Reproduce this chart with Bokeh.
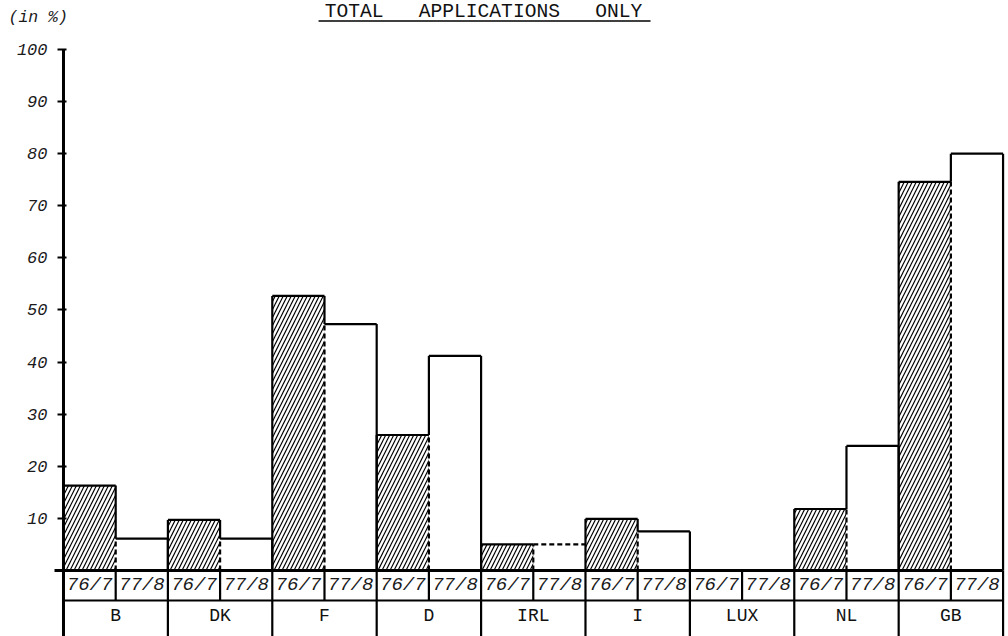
from bokeh.plotting import figure
from bokeh.models import Range1d, FixedTicker, ColumnDataSource
from bokeh.core.properties import value
from bokeh.embed import file_html
from bokeh.resources import INLINE

# ---- data ----
countries = ["B", "DK", "F", "D", "IRL", "I", "LUX", "NL", "GB"]
periods = ["76/7", "77/8"]
v76 = [16.3, 9.7, 52.7, 26.0, 5.0, 9.9, 0.0, 11.8, 74.6]
v78 = [6.1, 6.1, 47.3, 41.2, 5.0, 7.5, 0.0, 23.9, 80.0]
est78 = [False, False, False, False, True, False, False, False, False]  # shown only as dashed line
yticks = [10, 20, 30, 40, 50, 60, 70, 80, 90, 100]
title_text = "TOTAL\u00a0\u00a0\u00a0APPLICATIONS\u00a0\u00a0\u00a0ONLY"
unit_text = "(in\u00a0%)"

n = len(countries)
FONT = "Liberation Mono"

p = figure(width=1008, height=636, output_backend="svg", toolbar_location=None,
           x_range=Range1d(-0.6034, 9.052), y_range=Range1d(-12.67, 109.40),
           x_axis_location=None, min_border_left=0, min_border_right=0,
           min_border_top=0, min_border_bottom=0)
p.grid.visible = False
p.outline_line_color = None
p.background_fill_color = "white"
p.border_fill_color = "white"

ax = p.yaxis[0]
ax.fixed_location = 0
ax.ticker = FixedTicker(ticks=yticks)
ax.axis_line_color = None
ax.major_tick_in = 3
ax.major_tick_out = 6
ax.minor_tick_line_color = None
ax.major_tick_line_width = 2
ax.major_tick_line_color = "black"
ax.major_label_standoff = 10
ax.major_label_text_font = FONT
ax.major_label_text_font_style = "italic"
ax.major_label_text_font_size = "17px"
ax.major_label_text_color = "#1a1a1a"

row_h = 5.76
y_bot = -12.67

# bars (fills)
left76 = [i for i in range(n)]
right76 = [i + 0.5 for i in range(n)]
left78 = [i + 0.5 for i in range(n)]
right78 = [i + 1 for i in range(n)]
p.quad(left=left76, right=right76, bottom=0, top=v76, fill_color="white",
       hatch_pattern="/", hatch_color="black", hatch_weight=1.2, hatch_scale=8,
       line_color=None)
p.quad(left=[l for l, e in zip(left78, est78) if not e],
       right=[r for r, e in zip(right78, est78) if not e],
       bottom=0, top=[v for v, e in zip(v78, est78) if not e],
       fill_color="white", line_color=None)

# outlines
sol = dict(x0=[], y0=[], x1=[], y1=[])
dsh = dict(x0=[], y0=[], x1=[], y1=[])
def add(d, a, b, c, e):
    d["x0"].append(a); d["y0"].append(b); d["x1"].append(c); d["y1"].append(e)

for i, (a, b) in enumerate(zip(v76, v78)):
    L, M, R = i, i + 0.5, i + 1
    if a > 0:
        add(sol, L, 0, L, a)
        add(sol, L, a, M, a)
    if b > 0:
        if est78[i]:
            add(dsh, M, b, R, b)
        else:
            add(sol, M, b, R, b)
            add(sol, R, 0, R, b)
    lo, hi = min(a, b), max(a, b)
    if lo > 0:
        add(dsh, M, 0, M, lo)
    if hi > lo:
        add(sol, M, lo, M, hi)

p.segment(source=ColumnDataSource(sol), x0="x0", y0="y0", x1="x1", y1="y1",
          line_color="black", line_width=2.2)
p.segment(source=ColumnDataSource(dsh), x0="x0", y0="y0", x1="x1", y1="y1",
          line_color="black", line_width=2.2, line_dash="5 3")

# table grid
tab = dict(x0=[], y0=[], x1=[], y1=[])
add(tab, 0, -row_h, n, -row_h)
for i in range(n):
    add(tab, i + 0.5, 0, i + 0.5, -row_h)
for i in range(n + 1):
    add(tab, i, 0, i, y_bot)
p.segment(source=ColumnDataSource(tab), x0="x0", y0="y0", x1="x1", y1="y1",
          line_color="black", line_width=2.2)
# baseline and vertical axis line
p.segment(x0=[-0.086], y0=[0], x1=[n], y1=[0], line_color="black", line_width=3)
p.segment(x0=[0], y0=[yticks[-1]], x1=[0], y1=[y_bot], line_color="black", line_width=3)

# period labels
px, pt = [], []
for i in range(n):
    px += [i + 0.25, i + 0.75]
    pt += periods
p.text(x=px, y=[-row_h / 2] * len(px), text=pt, text_align="center",
       text_baseline="middle", text_font=value(FONT), text_font_style="italic",
       text_font_size="19px", text_color="#1a1a1a")
# country labels
p.text(x=[i + 0.5 for i in range(n)], y=[-8.7] * n, text=countries,
       text_align="center", text_baseline="middle", text_font=value(FONT),
       text_font_size="18px", text_color="#111111")

# title and unit
p.text(x=[4.023], y=[107.1], text=[title_text], text_align="center",
       text_baseline="alphabetic", text_font=value(FONT), text_font_size="19.6px",
       text_color="#111111")
p.segment(x0=[2.443], y0=[105.45], x1=[5.623], y1=[105.45], line_color="black", line_width=1.5)
p.text(x=[-0.527], y=[106.12], text=[unit_text], text_align="left",
       text_baseline="alphabetic", text_font=value(FONT), text_font_style="italic",
       text_font_size="16.5px", text_color="#1a1a1a")

open("out.html", "w").write(file_html(p, INLINE))
